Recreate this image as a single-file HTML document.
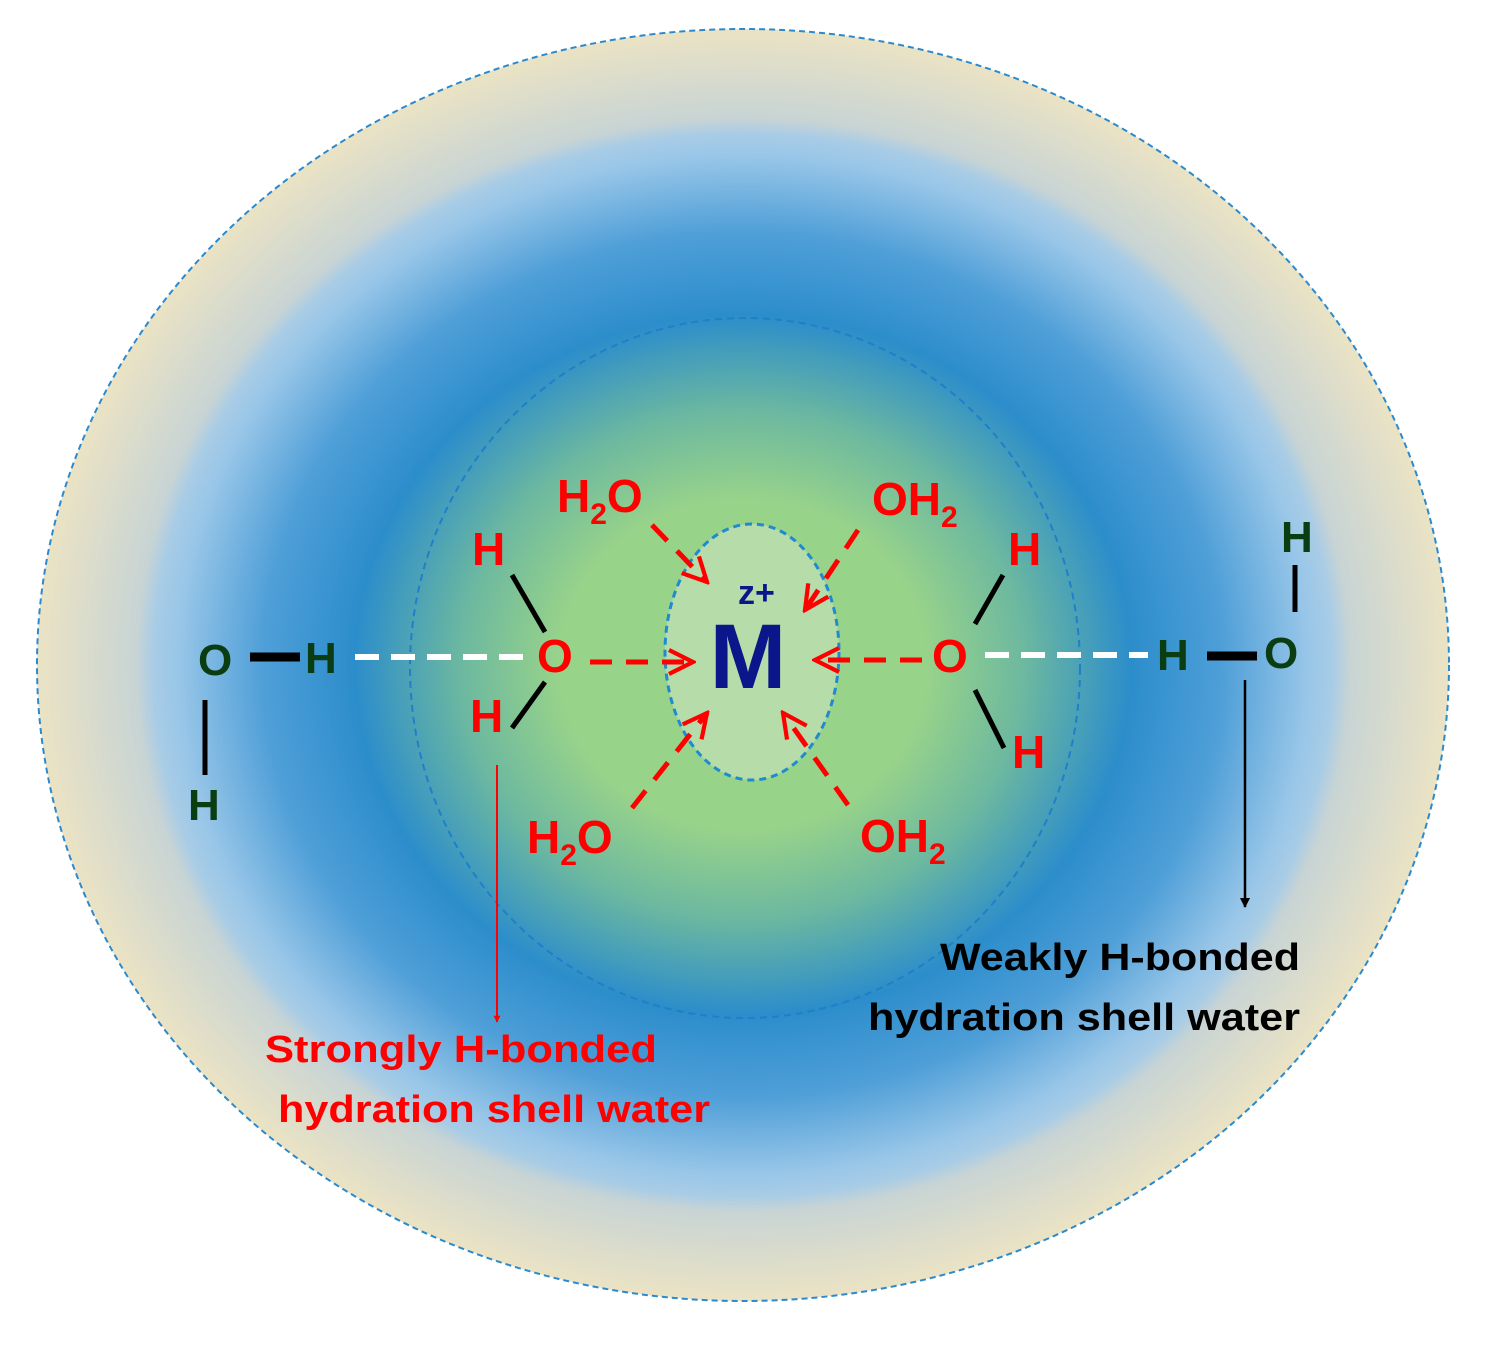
<!DOCTYPE html>
<html><head><meta charset="utf-8"><style>html,body{margin:0;padding:0;background:#fff}svg{display:block}</style></head>
<body>
<svg width="1496" height="1358" viewBox="0 0 1496 1358" xmlns="http://www.w3.org/2000/svg" font-family="Liberation Sans, sans-serif" font-weight="bold">
<defs>
<radialGradient id="g" cx="0.5" cy="0.5" r="0.5">
<stop offset="0" stop-color="#98d38a"/>
<stop offset="0.26" stop-color="#98d38a"/>
<stop offset="0.40" stop-color="#6cb8a0"/>
<stop offset="0.55" stop-color="#2c8dcb"/>
<stop offset="0.68" stop-color="#4f9fd8"/>
<stop offset="0.80" stop-color="#98c6e8"/>
<stop offset="0.835" stop-color="#a8cce6"/>
<stop offset="0.86" stop-color="#c8d4d4"/>
<stop offset="1" stop-color="#ebe3c4"/>
</radialGradient>
<marker id="ar" viewBox="0 0 10 10" refX="9" refY="5" markerWidth="7" markerHeight="7" orient="auto" markerUnits="userSpaceOnUse"><path d="M0,0L10,5L0,10z" fill="red"/></marker>
<marker id="ab" viewBox="0 0 10 10" refX="9" refY="5" markerWidth="10" markerHeight="10" orient="auto" markerUnits="userSpaceOnUse"><path d="M0,0L10,5L0,10z" fill="#000"/></marker>
<marker id="ch" viewBox="0 0 10 10" refX="9" refY="5" markerWidth="30" markerHeight="30" orient="auto" markerUnits="userSpaceOnUse"><path d="M1,1L9,5L1,9" fill="none" stroke="red" stroke-width="1.4"/></marker>
</defs>
<ellipse cx="743" cy="665" rx="706" ry="636" fill="url(#g)" stroke="#2a8ad0" stroke-width="2" stroke-dasharray="6 4"/>
<ellipse cx="745" cy="668" rx="335" ry="350" fill="none" stroke="#1f7fc8" stroke-width="2" stroke-dasharray="7 5"/>
<ellipse cx="752" cy="652" rx="87" ry="128" fill="#b5dca9" stroke="#1f8ad0" stroke-width="3" stroke-dasharray="7 5"/>
<g stroke="#fff" stroke-width="6" stroke-dasharray="24 12">
<line x1="355" y1="657" x2="525" y2="657"/><line x1="985" y1="655" x2="1148" y2="655"/>
</g>
<g stroke="red" stroke-width="5" stroke-dasharray="22 14" fill="none">
<line x1="590" y1="662" x2="693" y2="662" marker-end="url(#ch)"/>
<line x1="922" y1="660" x2="815" y2="660" marker-end="url(#ch)"/>
<line x1="652" y1="525" x2="707" y2="582" marker-end="url(#ch)"/>
<line x1="858" y1="530" x2="805" y2="610" marker-end="url(#ch)"/>
<line x1="632" y1="808" x2="707" y2="713" marker-end="url(#ch)"/>
<line x1="848" y1="805" x2="783" y2="713" marker-end="url(#ch)"/>
</g>
<g stroke="#000" stroke-width="5">
<line x1="512" y1="575" x2="545" y2="632"/><line x1="545" y1="682" x2="512" y2="728"/>
<line x1="1003" y1="575" x2="975" y2="624"/><line x1="975" y1="690" x2="1004" y2="748"/>
<line x1="205" y1="700" x2="205" y2="775"/><line x1="1295" y1="565" x2="1295" y2="612"/>
</g>
<g stroke="#000" stroke-width="9">
<line x1="250" y1="657" x2="300" y2="657"/><line x1="1207" y1="656" x2="1257" y2="656"/>
</g>
<line x1="497" y1="765" x2="497" y2="1022" stroke="red" stroke-width="2" marker-end="url(#ar)"/>
<line x1="1245" y1="680" x2="1245" y2="907" stroke="#000" stroke-width="2.5" marker-end="url(#ab)"/>
<g fill="red" font-size="46">
<text x="557" y="512">H<tspan font-size="30" dy="12">2</tspan><tspan dy="-12">O</tspan></text>
<text x="872" y="515">OH<tspan font-size="30" dy="12">2</tspan></text>
<text x="527" y="853">H<tspan font-size="30" dy="12">2</tspan><tspan dy="-12">O</tspan></text>
<text x="860" y="852">OH<tspan font-size="30" dy="12">2</tspan></text>
<text x="472" y="565">H</text><text x="537" y="672">O</text><text x="470" y="732">H</text>
<text x="1008" y="565">H</text><text x="932" y="672">O</text><text x="1012" y="768">H</text>
</g>
<g fill="#0b3d12" font-size="44">
<text x="198" y="675">O</text><text x="305" y="673">H</text><text x="188" y="820">H</text>
<text x="1157" y="670">H</text><text x="1264" y="668">O</text><text x="1281" y="552">H</text>
</g>
<text x="748" y="688" text-anchor="middle" font-size="92" fill="#0a168a">M</text>
<text x="738" y="604" font-size="34" fill="#0a168a">z+</text>
<g font-size="38">
<text x="265" y="1062" fill="red" textLength="392" lengthAdjust="spacingAndGlyphs">Strongly  H-bonded</text>
<text x="278" y="1122" fill="red" textLength="432" lengthAdjust="spacingAndGlyphs">hydration shell water</text>
<text x="940" y="970" fill="#000" textLength="360" lengthAdjust="spacingAndGlyphs">Weakly H-bonded</text>
<text x="868" y="1030" fill="#000" textLength="432" lengthAdjust="spacingAndGlyphs">hydration shell water</text>
</g>
</svg>
</body></html>
